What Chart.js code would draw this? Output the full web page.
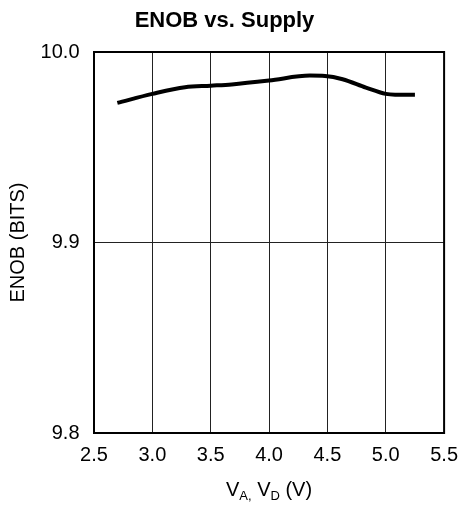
<!DOCTYPE html>
<html>
<head>
<meta charset="utf-8">
<script src="https://cdn.jsdelivr.net/npm/chart.js@4/dist/chart.umd.min.js"></script>
<style>
  html, body { margin: 0; padding: 0; background: #fff; }
  #wrap { width: 468px; height: 506px; }
</style>
</head>
<body>
<div id="wrap"><canvas id="enobChart" width="468" height="506"></canvas></div>
<script>
var supplyV = [2.7, 3.0, 3.28, 3.5, 3.68, 4.0, 4.35, 4.48, 4.63, 4.83, 5.0, 5.08, 5.25];
var enobBits = [9.9733, 9.978, 9.9815, 9.9823, 9.983, 9.985, 9.9876, 9.9874, 9.9857, 9.9813, 9.978, 9.9776, 9.9776];
var xTicks = [2.5, 3.0, 3.5, 4.0, 4.5, 5.0, 5.5];
var yTicks = [9.8, 9.9, 10.0];

var FONT = '"Liberation Sans", Arial, sans-serif';

var points = supplyV.map(function (v, i) { return { x: v, y: enobBits[i] }; });

// frame around the plot + x axis title with subscripts
var framePlugin = {
    id: 'frame',
    afterDraw: function (chart) {
        var a = chart.chartArea;
        var c = chart.ctx;
        c.save();
        c.strokeStyle = '#000';
        c.lineWidth = 2;
        c.strokeRect(a.left, a.top, a.right - a.left, a.bottom - a.top);

        var parts = [
            ['V', 20, 0], ['A,', 13, 4], [' V', 20, 0], ['D', 13, 4], [' (V)', 20, 0]
        ];
        var total = 0;
        parts.forEach(function (p) {
            c.font = p[1] + 'px ' + FONT;
            total += c.measureText(p[0]).width;
        });
        var x = (a.left + a.right) / 2 - total / 2;
        var base = 496;
        c.fillStyle = '#000';
        c.textBaseline = 'alphabetic';
        c.textAlign = 'left';
        parts.forEach(function (p) {
            c.font = p[1] + 'px ' + FONT;
            c.fillText(p[0], x, base + p[2]);
            x += c.measureText(p[0]).width;
        });
        c.restore();
    }
};

var ctx = document.getElementById('enobChart').getContext('2d');
var myChart = new Chart(ctx, {
    type: 'line',
    data: {
        datasets: [{
            data: points,
            borderColor: '#000',
            borderWidth: 4,
            pointRadius: 0,
            fill: false,
            cubicInterpolationMode: 'monotone'
        }]
    },
    options: {
        responsive: false,
        animation: false,
        layout: { padding: { left: 0, right: 19, top: 0, bottom: 0 } },
        plugins: {
            legend: { display: false },
            tooltip: { enabled: false },
            title: {
                display: true,
                text: 'ENOB vs. Supply',
                color: '#000',
                font: { family: FONT, size: 22, weight: 'bold' },
                padding: { top: 8, bottom: 17.6 }
            }
        },
        scales: {
            x: {
                type: 'linear',
                min: 2.5,
                max: 5.5,
                afterFit: function (s) { s.height = 73; },
                afterBuildTicks: function (s) {
                    s.ticks = xTicks.map(function (v) { return { value: v }; });
                },
                ticks: {
                    autoSkip: false,
                    maxRotation: 0,
                    padding: 10,
                    color: '#000',
                    font: { family: FONT, size: 20 },
                    callback: function (v) { return v.toFixed(1); }
                },
                grid: { color: '#222', lineWidth: 1, drawTicks: false },
                border: { display: false }
            },
            y: {
                min: 9.8,
                max: 10.0,
                afterFit: function (s) { s.width = 94; },
                afterBuildTicks: function (s) {
                    s.ticks = yTicks.map(function (v) { return { value: v }; });
                },
                ticks: {
                    padding: 14.5,
                    color: '#000',
                    font: { family: FONT, size: 20 },
                    callback: function (v) { return v.toFixed(1); }
                },
                grid: { color: '#222', lineWidth: 1, drawTicks: false },
                border: { display: false },
                title: {
                    display: true,
                    text: 'ENOB (BITS)',
                    color: '#000',
                    font: { family: FONT, size: 20 },
                    padding: { top: 6, bottom: 0 }
                }
            }
        }
    },
    plugins: [framePlugin]
});
</script>
</body>
</html>
